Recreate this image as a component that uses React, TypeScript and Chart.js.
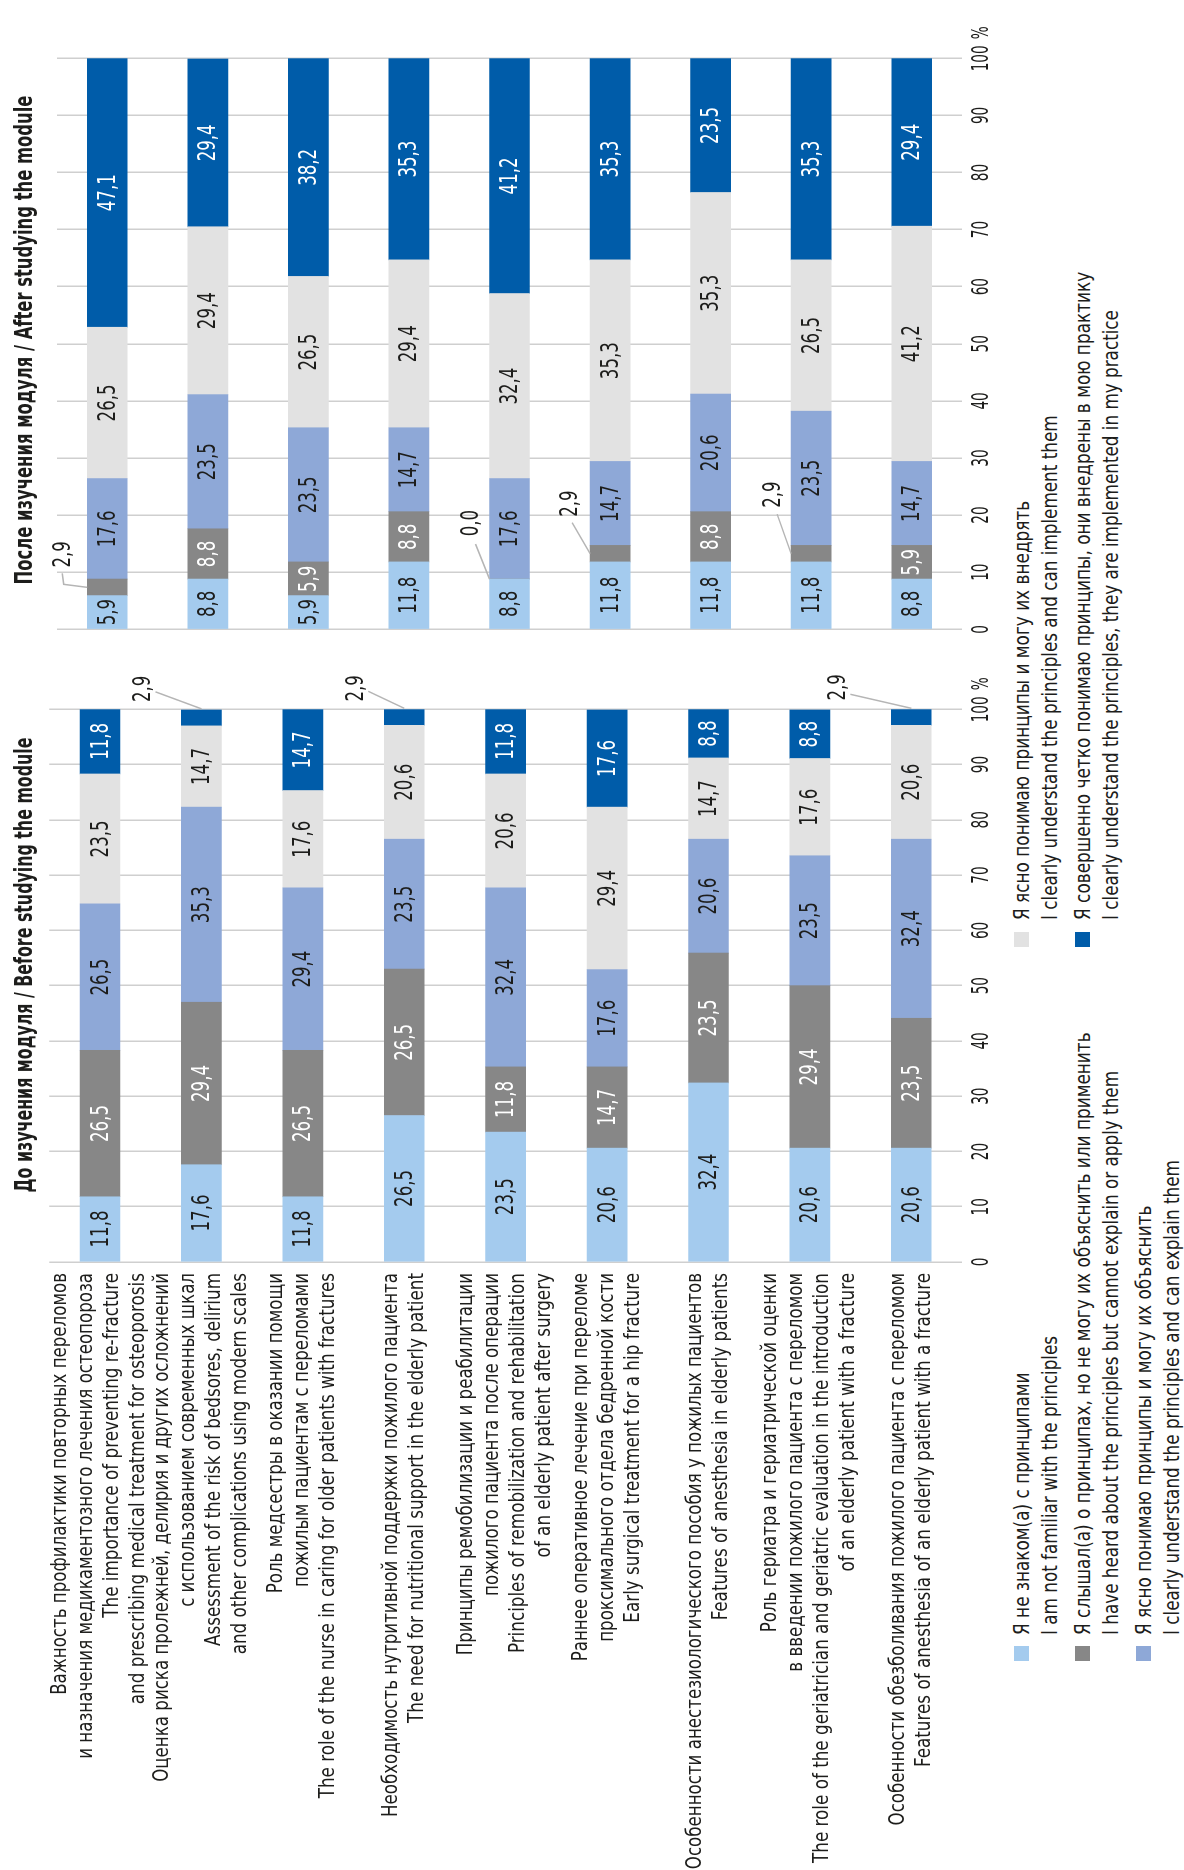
import React, { useEffect, useRef } from 'react';
import { Chart, registerables } from 'chart.js';

Chart.register(...registerables);

// ---------------- DATA ----------------
const categories: string[][] = [
  ['Важность профилактики повторных переломов', 'и назначения медикаментозного лечения остеопороза', 'The importance of preventing re-fracture', 'and prescribing medical treatment for osteoporosis'],
  ['Оценка риска пролежней, делирия и других осложнений', 'с использованием современных шкал', 'Assessment of the risk of bedsores, delirium', 'and other complications using modern scales'],
  ['Роль медсестры в оказании помощи', 'пожилым пациентам с переломами', 'The role of the nurse in caring for older patients with fractures'],
  ['Необходимость нутритивной поддержки пожилого пациента', 'The need for nutritional support in the elderly patient'],
  ['Принципы ремобилизации и реабилитации', 'пожилого пациента после операции', 'Principles of remobilization and rehabilitation', 'of an elderly patient after surgery'],
  ['Раннее оперативное лечение при переломе', 'проксимального отдела бедренной кости', 'Early surgical treatment for a hip fracture'],
  ['Особенности анестезиологического пособия у пожилых пациентов', 'Features of anesthesia in elderly patients'],
  ['Роль гериатра и гериатрической оценки', 'в введении пожилого пациента с переломом', 'The role of the geriatrician and geriatric evaluation in the introduction', 'of an elderly patient with a fracture'],
  ['Особенности обезболивания пожилого пациента с переломом', 'Features of anesthesia of an elderly patient with a fracture'],
];

const seriesNames: string[][] = [
  ['Я не знаком(а) с принципами', 'I am not familiar with the principles'],
  ['Я слышал(а) о принципах, но не могу их объяснить или применить', 'I have heard about the principles but cannot explain or apply them'],
  ['Я ясно понимаю принципы и могу их объяснить', 'I clearly understand the principles and can explain them'],
  ['Я ясно понимаю принципы и могу их внедрять', 'I clearly understand the principles and can implement them'],
  ['Я совершенно четко понимаю принципы, они внедрены в мою практику', 'I clearly understand the principles, they are implemented in my practice'],
];

const beforeTitle = 'До изучения модуля / Before studying the module';
const afterTitle = 'После изучения модуля / After studying the module';

const beforeNotFamiliar = [11.8, 17.6, 11.8, 26.5, 23.5, 20.6, 32.4, 20.6, 20.6];
const beforeHeard = [26.5, 29.4, 26.5, 26.5, 11.8, 14.7, 23.5, 29.4, 23.5];
const beforeExplain = [26.5, 35.3, 29.4, 23.5, 32.4, 17.6, 20.6, 23.5, 32.4];
const beforeImplement = [23.5, 14.7, 17.6, 20.6, 20.6, 29.4, 14.7, 17.6, 20.6];
const beforeInPractice = [11.8, 2.9, 14.7, 2.9, 11.8, 17.6, 8.8, 8.8, 2.9];

const afterNotFamiliar = [5.9, 8.8, 5.9, 11.8, 8.8, 11.8, 11.8, 11.8, 8.8];
const afterHeard = [2.9, 8.8, 5.9, 8.8, 0.0, 2.9, 8.8, 2.9, 5.9];
const afterExplain = [17.6, 23.5, 23.5, 14.7, 17.6, 14.7, 20.6, 23.5, 14.7];
const afterImplement = [26.5, 29.4, 26.5, 29.4, 32.4, 35.3, 35.3, 26.5, 41.2];
const afterInPractice = [47.1, 29.4, 38.2, 35.3, 41.2, 35.3, 23.5, 35.3, 29.4];

const axisMin = 0;
const axisMax = 100;
const axisStep = 10;

// ---------------- STYLE ----------------
const FONT = "'DejaVu Sans Condensed', 'DejaVu Sans', sans-serif";
const TEXT = '#1d1d1b';
const seriesColors = ['#a4cbee', '#878787', '#8ea8d7', '#e2e2e2', '#005ca9'];
const labelColors = [TEXT, '#ffffff', TEXT, TEXT, '#ffffff'];
const GRID = '#cfcfcf';
const LEADER = '#b5b5b5';
const CAT_LINE_H = 26;

// callout placement for small segments (pixel offsets, layout only)
const calloutsBefore = [
  { cat: 1, ds: 4, dx: 20, dy: -59, sx: -3, sy: 13 },
  { cat: 3, ds: 4, dx: 20, dy: -49, sx: -3, sy: 13 },
  { cat: 8, ds: 4, dx: 21, dy: -74, sx: -7, sy: 13 },
];
const calloutsAfter = [
  { cat: 0, ds: 1, dx: 33, dy: -25, sx: -19, sy: 0, ex: -11, ey: 1.5 },
  { cat: 4, ds: 1, dx: 56, dy: -19, sx: -21, sy: 5 },
  { cat: 5, ds: 1, dx: 50, dy: -21, sx: -19, sy: 3 },
  { cat: 7, ds: 1, dx: 59, dy: -19, sx: -19.5, sy: 5 },
];

// --------- condensed-text helpers (horizontal compression to mimic a narrow face) ---------
let measureCtx: CanvasRenderingContext2D | null = null;
function measure(text: string, font: string) {
  if (!measureCtx) measureCtx = document.createElement('canvas').getContext('2d');
  measureCtx!.font = font;
  return measureCtx!.measureText(text).width;
}
const F21 = `21px ${FONT}`;
const F22 = `22px ${FONT}`;
const F24B = `bold 24px ${FONT}`;
const F25 = `25px ${FONT}`;
const F23 = `23px ${FONT}`;
let kCache: any = null;
function K() {
  if (!kCache) {
    const c1 = 'Важность профилактики повторных переломов';
    const c2 = 'Особенности анестезиологического пособия у пожилых пациентов';
    const l1 = 'The role of the geriatrician and geriatric evaluation in the introduction';
    kCache = {
      cyr: (443 + 590) / (measure(c1, F22) + measure(c2, F22)),
      lat: 590 / measure(l1, F22),
      catCyr: (430 + 588) / (measure(c1, F21) + measure(c2, F21)),
      catLat: 590 / measure(l1, F21),
      num: 37 / measure('26,5', F25),
      tick: 26 / measure('100', F23),
      titleBefore: 455 / measure(beforeTitle, F24B),
      titleAfter: 489 / measure(afterTitle, F24B),
    };
  }
  return kCache;
}
const isCyr = (s: string) => /[\u0400-\u04FF]/.test(s);
const kLine = (s: string) => (isCyr(s) ? K().cyr : K().lat);
const kCat = (s: string) => (isCyr(s) ? K().catCyr : K().catLat);

function drawText(ctx: CanvasRenderingContext2D, text: string, x: number, y: number, k: number, align: CanvasTextAlign) {
  ctx.save();
  ctx.translate(x, y);
  ctx.scale(k, 1);
  ctx.textAlign = align;
  ctx.fillText(text, 0, 0);
  ctx.restore();
}

const fmt = (v: number) => v.toFixed(1).replace('.', ',');

function makeLabelPlugin(mode: 'before' | 'after', callouts: any[]) {
  return {
    id: 'segLabels_' + mode,
    afterDatasetsDraw(chart: any) {
      const ctx = chart.ctx as CanvasRenderingContext2D;
      const k = K();
      ctx.save();
      ctx.font = F25;
      ctx.textBaseline = 'middle';
      chart.data.datasets.forEach((ds: any, di: number) => {
        const meta = chart.getDatasetMeta(di);
        meta.data.forEach((el: any, ci: number) => {
          const v = ds.data[ci];
          const p = el.getProps(['x', 'y', 'base', 'height'], true);
          if (v >= 4) {
            ctx.fillStyle = labelColors[di];
            drawText(ctx, fmt(v), (p.x + p.base) / 2, p.y + 1, k.num, 'center');
            return;
          }
          const c = callouts.find((q) => q.cat === ci && q.ds === di);
          if (!c) return;
          let ex: number, ey: number;
          if (mode === 'before') {
            ex = p.x + 1;
            ey = p.y;
          } else {
            ex = (p.x + p.base) / 2;
            ey = p.y - p.height / 2;
          }
          const lx = ex + c.dx;
          const ly = ey + c.dy;
          ctx.strokeStyle = LEADER;
          ctx.lineWidth = 1.5;
          ctx.beginPath();
          const sx = lx + c.sx;
          const sy = ly + c.sy;
          ctx.moveTo(sx, sy);
          if (c.ex !== undefined) ctx.lineTo(sx + c.ex, sy + c.ey);
          ctx.lineTo(ex, ey);
          ctx.stroke();
          ctx.fillStyle = TEXT;
          drawText(ctx, fmt(v), lx, ly + 1, k.num, 'center');
        });
      });
      ctx.restore();
    },
  };
}

// axis texts drawn at the positions given by Chart.js scales
const axisTextPlugin = {
  id: 'axisText',
  afterDraw(chart: any) {
    const ctx = chart.ctx as CanvasRenderingContext2D;
    const k = K();
    const xs = chart.scales.x;
    ctx.save();
    ctx.fillStyle = TEXT;
    ctx.textBaseline = 'middle';
    ctx.font = F23;
    const ty = chart.chartArea.bottom + 20;
    xs.ticks.forEach((t: any) => {
      const px = xs.getPixelForValue(t.value);
      const s = String(t.value);
      drawText(ctx, s, px, ty, k.tick, 'center');
      if (t.value === axisMax) {
        const w = measure(s, F23) * k.tick;
        drawText(ctx, '%', px + w / 2 + 6, ty, k.tick, 'left');
      }
    });
    if (chart.options.plugins.axisText && chart.options.plugins.axisText.categories) {
      const ys = chart.scales.y;
      ctx.font = F21;
      const right = chart.chartArea.left - 11;
      categories.forEach((lines, i) => {
        const cy = ys.getPixelForValue(i);
        lines.forEach((line, j) => {
          const y = cy + (j - (lines.length - 1) / 2) * CAT_LINE_H;
          drawText(ctx, line, right, y, kCat(line), 'right');
        });
      });
    }
    ctx.restore();
  },
};

function buildDatasets(series: number[][]) {
  return series.map((d, i) => ({
    label: seriesNames[i].join(' / '),
    data: d,
    backgroundColor: seriesColors[i],
    borderWidth: 0,
    barThickness: 40,
  }));
}

const W = 1870;
const H = 1184;
const CH = 1002;

function ChartCanvas({ kind }: { kind: 'before' | 'after' }) {
  const ref = useRef<HTMLCanvasElement | null>(null);
  useEffect(() => {
    if (!ref.current) return;
    const isBefore = kind === 'before';
    const series = isBefore
      ? [beforeNotFamiliar, beforeHeard, beforeExplain, beforeImplement, beforeInPractice]
      : [afterNotFamiliar, afterHeard, afterExplain, afterImplement, afterInPractice];
    const chart = new Chart(ref.current, {
      type: 'bar',
      data: { labels: categories, datasets: buildDatasets(series) as any },
      options: {
        responsive: false,
        animation: false,
        indexAxis: 'y',
        devicePixelRatio: 1,
        layout: {
          padding: isBefore
            ? { left: 0, right: W - 1160.7, top: 49.3, bottom: 0 }
            : { left: 1240.7, right: W - 1811.7, top: 57, bottom: 0 },
        },
        plugins: {
          legend: { display: false },
          tooltip: { enabled: false },
          axisText: { categories: isBefore },
        },
        scales: {
          x: {
            stacked: true,
            min: axisMin,
            max: axisMax,
            ticks: { stepSize: axisStep, display: false },
            grid: { color: GRID, lineWidth: 1.5, drawTicks: false },
            border: { display: false },
            afterFit: (s: any) => {
              s.height = 40;
            },
          },
          y: isBefore
            ? {
                stacked: true,
                ticks: { display: false },
                grid: { display: false, drawTicks: false },
                border: { display: false },
                afterFit: (s: any) => {
                  s.width = 608;
                },
              }
            : { stacked: true, display: false },
        },
      } as any,
      plugins: [makeLabelPlugin(kind, isBefore ? calloutsBefore : calloutsAfter) as any, axisTextPlugin as any],
    });
    return () => chart.destroy();
  }, [kind]);
  return (
    <canvas
      ref={ref}
      width={W}
      height={CH}
      style={{ position: 'absolute', left: 0, top: 0, width: W, height: CH }}
    />
  );
}

const legendCols = [
  { marker: 209, text: 235, items: [0, 1, 2] },
  { marker: 923, text: 950, items: [3, 4] },
];

function Line({ text }: { text: string }) {
  return (
    <div style={{ transform: `scaleX(${kLine(text)})`, transformOrigin: '0 50%', whiteSpace: 'nowrap', height: 28 }}>
      {text}
    </div>
  );
}

function Title({ text, center, k }: { text: string; center: number; k: number }) {
  return (
    <div
      style={{
        position: 'absolute', left: center - 400, width: 800, top: 9, lineHeight: '30px',
        textAlign: 'center', fontWeight: 'bold', fontSize: 24, whiteSpace: 'nowrap',
        transform: `scaleX(${k})`, transformOrigin: '50% 50%',
      }}
    >
      {text}
    </div>
  );
}

export default function App() {
  useEffect(() => {
    document.documentElement.style.overflow = 'hidden';
    document.body.style.overflow = 'hidden';
  }, []);
  return (
    <div
      style={{
        position: 'absolute',
        left: 0,
        top: 0,
        width: W,
        height: H,
        overflow: 'hidden',
        background: '#ffffff',
        transformOrigin: '0 0',
        transform: `translateY(${W}px) rotate(-90deg)`,
        fontFamily: FONT,
        color: TEXT,
      }}
    >
      <ChartCanvas kind="before" />
      <ChartCanvas kind="after" />
      <Title text={beforeTitle} center={905} k={K().titleBefore} />
      <Title text={afterTitle} center={1530} k={K().titleAfter} />
      {legendCols.map((col, ci) =>
        col.items.map((si, r) => (
          <React.Fragment key={ci + '-' + si}>
            <div
              style={{
                position: 'absolute', left: col.marker, top: 1014 + 61 * r, width: 15, height: 15,
                background: seriesColors[si],
              }}
            />
            <div
              style={{
                position: 'absolute', left: col.text, top: 1007.5 + 61 * r, fontSize: 22,
                lineHeight: '28px',
              }}
            >
              <Line text={seriesNames[si][0]} />
              <Line text={seriesNames[si][1]} />
            </div>
          </React.Fragment>
        ))
      )}
    </div>
  );
}
